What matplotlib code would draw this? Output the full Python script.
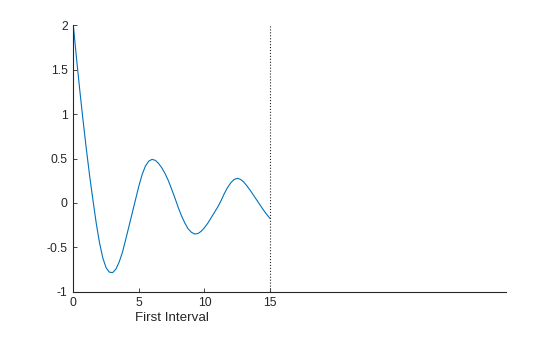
import matplotlib
matplotlib.use('Agg')
import matplotlib.pyplot as plt

plt.rcParams['font.family'] = ['Liberation Sans', 'DejaVu Sans']

# solution values, step 0.25 from 0 to 15
t = [i * 0.25 for i in range(61)]
y = [2.00, 1.62, 1.26, 0.92, 0.60, 0.30, 0.03, -0.23, -0.45, -0.62,
     -0.73, -0.78, -0.785, -0.745, -0.665, -0.555, -0.41, -0.26, -0.11, 0.04,
     0.19, 0.32, 0.415, 0.47, 0.49, 0.48, 0.445, 0.395, 0.33, 0.25,
     0.155, 0.055, -0.05, -0.145, -0.225, -0.29, -0.33, -0.35, -0.345, -0.32,
     -0.28, -0.23, -0.17, -0.11, -0.05, 0.02, 0.10, 0.17, 0.225, 0.262,
     0.277, 0.265, 0.235, 0.19, 0.14, 0.085, 0.03, -0.025, -0.08, -0.13,
     -0.175]
t_end = 15
x_max = 33
xticks = [0, 5, 10, 15]
yticks = [-1, -0.5, 0, 0.5, 1, 1.5, 2]
ytick_labels = ['-1', '-0.5', '0', '0.5', '1', '1.5', '2']
xlabel = 'First Interval'

fig = plt.figure(figsize=(5.6, 3.37), dpi=100)
ax = fig.add_axes([0.1309, 0.1344, 0.7727, 0.7905])

ax.plot(t, y, color='#0072BD', linewidth=0.8)
ax.plot([t_end, t_end], [-1, 2], color='#262626', linestyle=':', linewidth=0.8)

ax.set_xlim(0, x_max)
ax.set_ylim(-1, 2)
ax.set_xticks(xticks)
ax.set_xticklabels([str(v) for v in xticks])
ax.set_yticks(yticks)
ax.set_yticklabels(ytick_labels)

for s in ['top', 'right']:
    ax.spines[s].set_visible(False)
for s in ['left', 'bottom']:
    ax.spines[s].set_color('#262626')
    ax.spines[s].set_linewidth(0.8)

ax.tick_params(direction='in', length=3, width=0.6, colors='#262626',
               labelsize=8.7, pad=4)
ax.set_xlabel(xlabel, fontsize=9.6, color='#262626')
# label sits under the middle of the first interval
ax.xaxis.set_label_coords(t_end / 2 / x_max, -0.075)

fig.savefig('out.png', dpi=100)
